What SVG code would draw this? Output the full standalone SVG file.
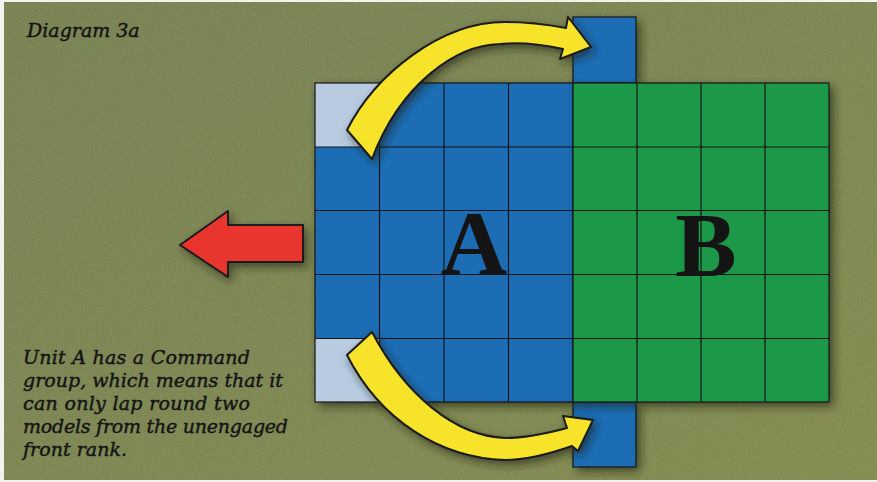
<svg xmlns="http://www.w3.org/2000/svg" width="877" height="482" viewBox="0 0 877 482">
  <defs>
    <linearGradient id="bg" x1="0" y1="0" x2="1" y2="1">
      <stop offset="0" stop-color="#767f4c"/>
      <stop offset="0.5" stop-color="#7b844c"/>
      <stop offset="1" stop-color="#82894a"/>
    </linearGradient>
    <filter id="noise" x="0" y="0" width="100%" height="100%">
      <feTurbulence type="fractalNoise" baseFrequency="0.8" numOctaves="2" seed="3" result="n"/>
      <feColorMatrix type="matrix" values="0 0 0 0 0.5  0 0 0 0 0.55  0 0 0 0 0.6  0 0 0 0.35 -0.05"/>
    </filter>
    <filter id="shadow" x="-20%" y="-20%" width="140%" height="140%">
      <feDropShadow dx="4" dy="4" stdDeviation="5" flood-color="#1c200e" flood-opacity="0.7"/>
    </filter>
    <filter id="ashadow" x="-20%" y="-20%" width="140%" height="140%">
      <feDropShadow dx="3" dy="4" stdDeviation="4" flood-color="#1c200e" flood-opacity="0.6"/>
    </filter>
  </defs>
  <style>
    .blue { fill: #1f6db4; }
    .green { fill: #1f984a; }
    .pale { fill: #b8cbe0; }
    .grid { stroke: #161616; stroke-width: 1.2; fill: none; }
    .yarrow { fill: #f7e42c; stroke: #1a1a1a; stroke-width: 2; stroke-linejoin: round; }
    .rarrow { fill: #e8342f; stroke: #1a1a1a; stroke-width: 2; stroke-linejoin: round; }
    .big { font-family: "Liberation Serif", "Times New Roman", serif; font-weight: bold; font-size: 92px; fill: #141414; text-anchor: middle; }
    .note { font-family: "DejaVu Serif", "Liberation Serif", serif; font-style: italic; font-size: 19px; fill: #141414; stroke: #141414; stroke-width: 0.45; }
  </style>

  <rect x="0" y="0" width="877" height="482" fill="#f2f2ee"/>
  <rect x="4" y="2" width="873" height="478" fill="url(#bg)"/>
  <rect x="4" y="2" width="873" height="478" filter="url(#noise)" opacity="0.6"/>

  <g id="title">
    <text class="note" x="27" y="37" font-size="18">Diagram 3a</text>
  </g>

  <g id="lap-top">
    <rect class="blue" x="573" y="17" width="63" height="66" filter="url(#shadow)"/>
    <rect class="grid" x="573" y="17" width="63" height="66"/>
  </g>
  <g id="lap-bottom">
    <rect class="blue" x="573" y="402" width="63" height="65" filter="url(#shadow)"/>
    <rect class="grid" x="573" y="402" width="63" height="65"/>
  </g>

  <g id="unit-a">
    <rect class="blue" x="315" y="83" width="258" height="319" filter="url(#shadow)"/>
    <rect class="pale" x="315" y="83" width="64.5" height="64"/>
    <rect class="pale" x="315" y="338.5" width="64.5" height="63.5"/>
    <path class="grid" d="M379.5,83V402M444,83V402M508.5,83V402M315,147H573M315,210.5H573M315,274.5H573M315,338.5H573"/>
    <rect class="grid" x="315" y="83" width="258" height="319"/>
    <text class="big" x="474" y="274">A</text>
  </g>

  <g id="unit-b">
    <rect class="green" x="573" y="83" width="256" height="319" filter="url(#shadow)"/>
    <path class="grid" d="M637,83V402M701,83V402M765,83V402M573,147H829M573,210.5H829M573,274.5H829M573,338.5H829"/>
    <rect class="grid" x="573" y="83" width="256" height="319"/>
    <text class="big" x="706" y="276">B</text>
  </g>

  <g id="connectors">
    <path id="lap-arrow-top" class="yarrow" filter="url(#ashadow)" d="M347,130 C375,75 440,22 505,22 C530,22 550,25 566,28 L568,17 L591,47 L560,59 L563,49 C540,44 520,42 500,44 C455,45 400,85 372,159 Z"/>
    <path id="lap-arrow-bottom" class="yarrow" filter="url(#ashadow)" d="M347,355 C380,420 440,458 505,460 C530,460 555,452 572,446 L578,451 L593,420 L563,416 L567,428 C545,434 525,438 505,438 C455,436 405,395 372,332 Z"/>
    <path id="retreat-arrow" class="rarrow" filter="url(#ashadow)" d="M180,245 L228,211 L228,225 L303,225 L303,262 L228,262 L228,277 Z"/>
  </g>

  <g id="caption">
    <text class="note" x="23" y="364" textLength="227" lengthAdjust="spacing">Unit A has a Command</text>
    <text class="note" x="23" y="387" textLength="260" lengthAdjust="spacing">group, which means that it</text>
    <text class="note" x="23" y="410" textLength="227" lengthAdjust="spacing">can only lap round two</text>
    <text class="note" x="23" y="433" textLength="265" lengthAdjust="spacing">models from the unengaged</text>
    <text class="note" x="23" y="456" textLength="104" lengthAdjust="spacing">front rank.</text>
  </g>
</svg>
